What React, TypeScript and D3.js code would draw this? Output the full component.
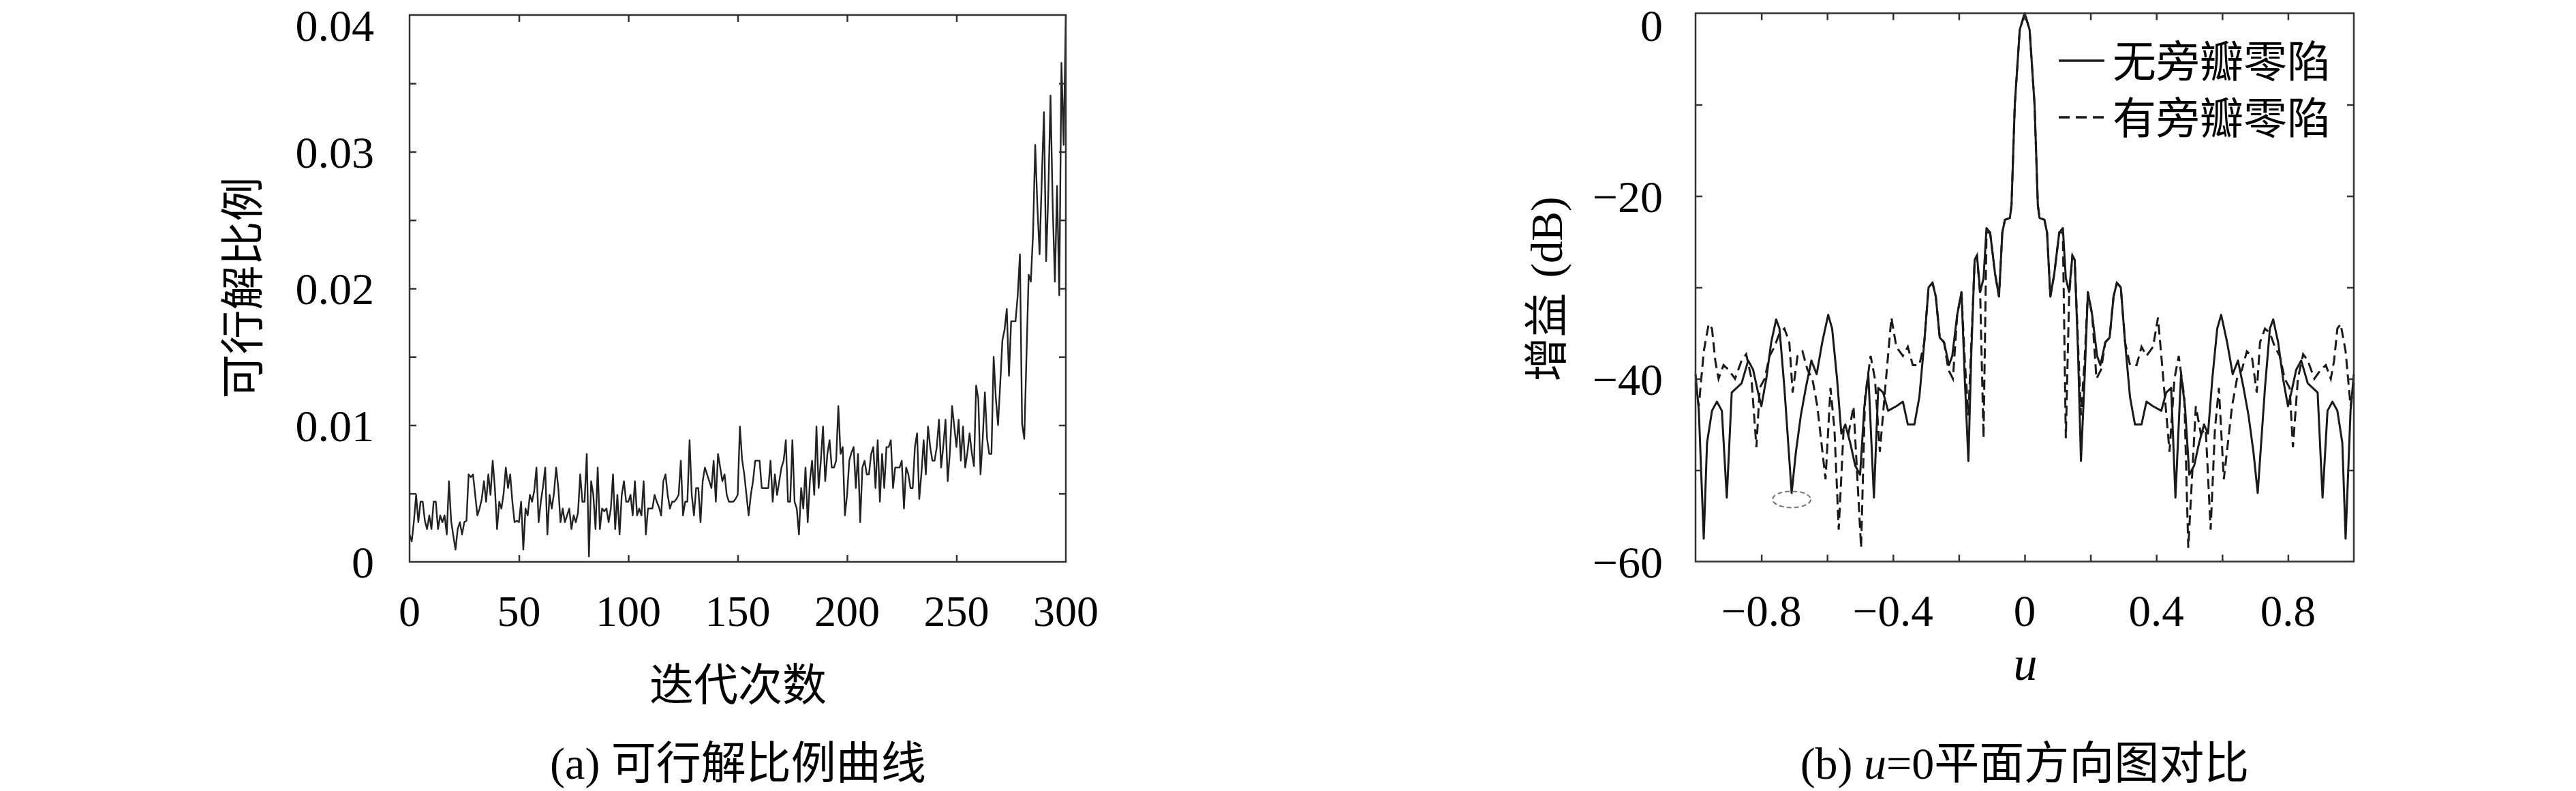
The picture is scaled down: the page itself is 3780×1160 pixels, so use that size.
import * as d3 from "d3";
import { useEffect, useRef } from "react";

// ---- (a) feasible solution ratio ----
const iterTicks = [0, 50, 100, 150, 200, 250, 300];
const ratioTicks = [0, 0.01, 0.02, 0.03, 0.04];
const ratioMinorTicks = [0.005, 0.015, 0.025, 0.035];
// ratio per iteration, in units of 1e-3 (iterations 0..300)
const feasibleRatio = [
  2.0, 1.5, 3.0, 4.9, 2.9, 4.4, 4.4, 3.0, 2.4, 3.4,
  2.4, 4.4, 4.4, 2.4, 3.4, 2.9, 3.4, 2.0, 5.9, 3.0,
  1.9, 0.9, 2.4, 2.9, 2.0, 2.9, 3.0, 6.4, 6.2, 6.4,
  4.9, 3.4, 3.9, 4.6, 5.9, 4.4, 6.4, 4.9, 7.4, 5.4,
  2.4, 4.4, 3.9, 5.0, 6.9, 5.4, 6.4, 4.4, 2.9, 3.0,
  2.9, 4.4, 0.9, 3.9, 3.4, 4.9, 4.4, 5.2, 6.9, 2.9,
  4.4, 5.5, 6.9, 2.0, 4.9, 3.9, 5.0, 6.9, 5.4, 2.9,
  3.9, 2.9, 3.4, 3.9, 2.4, 3.4, 2.9, 3.6, 6.4, 4.4,
  4.4, 7.9, 0.4, 5.9, 4.9, 2.4, 6.9, 2.4, 3.9, 3.7,
  3.9, 2.9, 3.9, 6.4, 2.4, 4.9, 2.0, 4.9, 5.9, 4.4,
  4.4, 4.9, 3.4, 5.9, 3.4, 3.9, 3.4, 5.9, 2.0, 3.9,
  3.9, 3.9, 4.9, 4.4, 4.0, 3.4, 5.9, 6.4, 4.9, 3.9,
  4.4, 4.4, 4.6, 4.9, 7.4, 3.4, 4.4, 4.4, 8.9, 4.9,
  3.4, 5.4, 5.4, 2.9, 5.9, 6.9, 6.4, 5.9, 5.4, 7.4,
  4.4, 7.9, 6.9, 5.9, 6.4, 4.9, 4.4, 4.4, 4.4, 4.6,
  4.9, 9.9, 7.5, 6.4, 4.9, 3.4, 4.9, 5.9, 7.4, 7.4,
  7.4, 5.4, 5.4, 5.4, 5.4, 7.4, 4.4, 6.4, 4.9, 5.9,
  6.9, 7.4, 8.9, 4.4, 4.4, 8.9, 4.4, 3.9, 2.0, 5.4,
  3.9, 6.9, 2.9, 5.9, 7.4, 4.9, 9.9, 5.4, 7.4, 9.9,
  5.9, 7.9, 8.9, 6.9, 6.9, 7.4, 11.4, 7.9, 8.4, 3.4,
  4.9, 7.4, 8.0, 8.4, 5.4, 7.9, 2.9, 6.9, 7.4, 6.4,
  6.4, 7.9, 8.4, 5.4, 8.9, 4.4, 7.9, 5.4, 8.4, 8.4,
  8.9, 5.4, 6.9, 6.9, 6.9, 7.4, 3.9, 6.9, 6.4, 5.4,
  5.4, 8.4, 9.4, 4.6, 6.5, 8.9, 6.4, 9.9, 8.4, 7.4,
  7.4, 8.4, 10.4, 6.9, 8.5, 10.4, 5.9, 8.0, 11.4, 9.9,
  8.4, 10.4, 7.4, 9.9, 6.9, 8.0, 9.4, 8.0, 7.0, 12.9,
  11.9, 6.4, 9.0, 12.4, 9.0, 7.9, 7.9, 15.0, 12.0, 10.0,
  13.0, 16.2, 17.0, 18.5, 13.6, 17.6, 17.6, 17.6, 19.5, 22.5,
  10.1, 9.0, 15.0, 21.0, 20.5, 24.0, 30.5, 26.0, 22.5, 28.0,
  32.9, 22.0, 27.0, 34.1, 26.0, 20.5, 27.5, 19.5, 36.5, 30.5,
  40.0,
];

// ---- (b) pattern comparison on u=0 plane ----
const uTicks = [-0.8, -0.6, -0.4, -0.2, 0, 0.2, 0.4, 0.6, 0.8];
const uLabels = [-0.8, -0.4, 0, 0.4, 0.8];
const gainTicks = [-60, -50, -40, -30, -20, -10, 0];
const gainLabels = [-60, -40, -20, 0];
const legendNames = ["无旁瓣零陷", "有旁瓣零陷"];

// [u, gain dB]
const noNullPattern: [number, number][] = [
  [-1.0, -39.5], [-0.99, -43.5], [-0.975, -57.5], [-0.965, -47], [-0.95, -43.5], [-0.935, -42.5],
  [-0.92, -43.5], [-0.905, -53], [-0.89, -41.5], [-0.875, -41], [-0.86, -40.5], [-0.84, -38],
  [-0.825, -39], [-0.81, -41.5], [-0.8, -43], [-0.785, -40], [-0.77, -36], [-0.755, -33.5],
  [-0.745, -34.5], [-0.73, -41], [-0.708, -52.5], [-0.695, -48], [-0.68, -44], [-0.665, -41],
  [-0.648, -38], [-0.632, -39.5], [-0.615, -36], [-0.597, -33], [-0.585, -34.5], [-0.57, -40],
  [-0.557, -46], [-0.545, -45], [-0.53, -47], [-0.515, -49.5], [-0.5, -50.5], [-0.487, -43],
  [-0.475, -39.5], [-0.458, -53], [-0.445, -41], [-0.43, -41.5], [-0.415, -43.5], [-0.39, -43],
  [-0.37, -42.5], [-0.355, -45], [-0.335, -45], [-0.32, -42], [-0.305, -36], [-0.292, -30],
  [-0.28, -29.5], [-0.27, -31], [-0.258, -35.5], [-0.245, -36], [-0.23, -38.5], [-0.22, -37.5],
  [-0.205, -33], [-0.192, -30.5], [-0.182, -40], [-0.171, -49], [-0.162, -37], [-0.152, -27],
  [-0.145, -26.5], [-0.135, -30.5], [-0.125, -29], [-0.116, -23.5], [-0.105, -24], [-0.09, -28.5],
  [-0.078, -31], [-0.068, -24], [-0.06, -22.6], [-0.045, -22.4], [-0.04, -21], [-0.03, -10],
  [-0.015, -1.8], [0, 0],
  [0.015, -1.8], [0.03, -10], [0.04, -21], [0.045, -22.4], [0.06, -22.6], [0.068, -24],
  [0.078, -31], [0.09, -28.5], [0.105, -24], [0.116, -23.5], [0.125, -29], [0.135, -30.5],
  [0.145, -26.5], [0.152, -27], [0.162, -37], [0.171, -49], [0.182, -40], [0.192, -30.5],
  [0.205, -33], [0.22, -37.5], [0.23, -38.5], [0.245, -36], [0.258, -35.5], [0.27, -31],
  [0.28, -29.5], [0.292, -30], [0.305, -36], [0.32, -42], [0.335, -45], [0.355, -45],
  [0.37, -42.5], [0.39, -43], [0.415, -43.5], [0.43, -41.5], [0.445, -41], [0.458, -53],
  [0.475, -39.5], [0.487, -43], [0.5, -50.5], [0.515, -49.5], [0.53, -47], [0.545, -45],
  [0.557, -46], [0.57, -40], [0.585, -34.5], [0.597, -33], [0.615, -36], [0.632, -39.5],
  [0.648, -38], [0.665, -41], [0.68, -44], [0.695, -48], [0.708, -52.5], [0.73, -41],
  [0.745, -34.5], [0.755, -33.5], [0.77, -36], [0.785, -40], [0.8, -43], [0.81, -41.5],
  [0.825, -39], [0.84, -38], [0.86, -40.5], [0.875, -41], [0.89, -41.5], [0.905, -53],
  [0.92, -43.5], [0.935, -42.5], [0.95, -43.5], [0.965, -47], [0.975, -57.5], [0.99, -43.5],
  [1.0, -39.5],
];

const withNullPattern: [number, number][] = [
  [-1.0, -40.5], [-0.99, -43], [-0.975, -37], [-0.96, -34], [-0.95, -34.5], [-0.94, -38],
  [-0.93, -40], [-0.915, -38.5], [-0.9, -39], [-0.88, -40], [-0.86, -38], [-0.846, -37.3],
  [-0.83, -40], [-0.815, -47.5], [-0.805, -41], [-0.79, -40], [-0.775, -37.5], [-0.76, -36.5],
  [-0.745, -35], [-0.73, -34.5], [-0.715, -36], [-0.705, -41.5], [-0.69, -37.5], [-0.675, -37],
  [-0.66, -39], [-0.645, -40], [-0.63, -43], [-0.605, -51], [-0.59, -41], [-0.578, -45.5],
  [-0.565, -56.5], [-0.55, -45.5], [-0.535, -46], [-0.52, -43], [-0.497, -58.5], [-0.485, -42],
  [-0.468, -37.5], [-0.455, -40], [-0.44, -48], [-0.42, -39.5], [-0.405, -33.3], [-0.39, -36.5],
  [-0.37, -37.5], [-0.355, -36.5], [-0.34, -38.5], [-0.32, -38.5], [-0.305, -36], [-0.292, -30],
  [-0.28, -29.5], [-0.27, -31], [-0.258, -35.5], [-0.245, -36], [-0.232, -39], [-0.218, -40],
  [-0.205, -33], [-0.192, -30.5], [-0.182, -38], [-0.171, -44], [-0.162, -36], [-0.152, -27],
  [-0.145, -26.5], [-0.135, -31], [-0.125, -46.5], [-0.116, -24], [-0.105, -24], [-0.09, -28.5],
  [-0.078, -31], [-0.068, -24], [-0.06, -22.6], [-0.045, -22.4], [-0.04, -21], [-0.03, -10],
  [-0.015, -1.8], [0, 0],
  [0.015, -1.8], [0.03, -10], [0.04, -21], [0.045, -22.4], [0.06, -22.6], [0.068, -24],
  [0.078, -31], [0.09, -28.5], [0.105, -24], [0.116, -24], [0.125, -46.5], [0.135, -31],
  [0.145, -26.5], [0.152, -27], [0.162, -36], [0.171, -44], [0.182, -38], [0.192, -30.5],
  [0.205, -33], [0.218, -40], [0.232, -39], [0.245, -36], [0.258, -35.5], [0.27, -31],
  [0.28, -29.5], [0.292, -30], [0.305, -36], [0.32, -38.5], [0.34, -38.5], [0.355, -36.5],
  [0.37, -37.5], [0.39, -36.5], [0.405, -33.3], [0.42, -39.5], [0.44, -48], [0.455, -40],
  [0.468, -37.5], [0.485, -42], [0.497, -58.5], [0.52, -43], [0.535, -46], [0.55, -45.5],
  [0.565, -56.5], [0.578, -45.5], [0.59, -41], [0.605, -51], [0.63, -43], [0.645, -40],
  [0.66, -39], [0.675, -37], [0.69, -37.5], [0.705, -41.5], [0.715, -36], [0.73, -34.5],
  [0.745, -35], [0.76, -36.5], [0.775, -37.5], [0.79, -40], [0.805, -41], [0.815, -47.5],
  [0.83, -40], [0.846, -37.3], [0.86, -38], [0.88, -40], [0.9, -39], [0.915, -38.5],
  [0.93, -40], [0.94, -38], [0.95, -34.5], [0.96, -34], [0.975, -37], [0.99, -43],
  [1.0, -40.5],
];

const markedNull = { u: -0.708, gain: -53.2 };

const FONT = "'Liberation Serif', 'DejaVu Serif', 'Noto Sans CJK SC', serif";
const INK = "#1a1a1a";
const fmt = (v: number) => (v < 0 ? "\u2212" + Math.abs(v) : String(v));

const App = () => {
  const ref = useRef<SVGSVGElement>(null);

  useEffect(() => {
    const svg = d3.select(ref.current);
    svg.selectAll("*").remove();
    svg.attr("width", 3780).attr("height", 1160);
    svg.append("rect").attr("width", 3780).attr("height", 1160).attr("fill", "#fff");

    const frame = (
      x: d3.ScaleLinear<number, number>,
      y: d3.ScaleLinear<number, number>,
      xt: number[],
      yt: number[]
    ) => {
      const [x0, x1] = x.range();
      const [y1, y0] = y.range();
      const g = svg.append("g");
      const tick = 10;
      const axes = [
        { a: d3.axisBottom(x).tickValues(xt), t: `translate(0,${y1})` },
        { a: d3.axisTop(x).tickValues(xt), t: `translate(0,${y0})` },
        { a: d3.axisLeft(y).tickValues(yt), t: `translate(${x0},0)` },
        { a: d3.axisRight(y).tickValues(yt), t: `translate(${x1},0)` },
      ];
      axes.forEach(({ a, t }) => {
        const ag = g
          .append("g")
          .attr("transform", t)
          .call(a.tickSize(-tick).tickFormat(() => ""));
        ag.select(".domain").remove();
        ag.selectAll("line").attr("stroke", "#333").attr("stroke-width", 2.5);
      });
      g.append("rect")
        .attr("x", x0)
        .attr("y", y0)
        .attr("width", x1 - x0)
        .attr("height", y1 - y0)
        .attr("fill", "none")
        .attr("stroke", "#333")
        .attr("stroke-width", 2.5);
    };

    const text = (
      s: string,
      x: number,
      y: number,
      size: number,
      anchor = "middle"
    ) =>
      svg
        .append("text")
        .attr("x", x)
        .attr("y", y)
        .attr("font-family", FONT)
        .attr("font-size", size)
        .attr("text-anchor", anchor)
        .attr("fill", "#000")
        .text(s);

    // ---------- chart (a) ----------
    const xa = d3.scaleLinear().domain([0, 300]).range([601, 1564]);
    const ya = d3.scaleLinear().domain([0, 0.04]).range([824, 22]);

    svg
      .append("path")
      .datum(feasibleRatio)
      .attr("fill", "none")
      .attr("stroke", "#222")
      .attr("stroke-width", 2.4)
      .attr("stroke-linejoin", "round")
      .attr(
        "d",
        d3
          .line<number>()
          .x((_, i) => xa(i))
          .y((d) => ya(d / 1000))
      );

    frame(xa, ya, iterTicks.slice(1, -1), [...ratioTicks.slice(1, -1), ...ratioMinorTicks]);

    // the top label sits a little low so it stays inside the picture
    iterTicks.forEach((t) => text(String(t), xa(t), 918, 64));
    ratioTicks.forEach((t) => text(fmt(t), 549, Math.max(ya(t) + 23, 60), 66, "end"));

    text("迭代次数", 1083, 1027, 65);
    svg
      .append("text")
      .attr("transform", "translate(357,422) rotate(-90)")
      .attr("dominant-baseline", "central")
      .attr("text-anchor", "middle")
      .attr("font-family", FONT)
      .attr("font-size", 65)
      .text("可行解比例");
    text("(a) 可行解比例曲线", 1083, 1142, 66);

    // ---------- chart (b) ----------
    const xb = d3.scaleLinear().domain([-1, 1]).range([2488, 3454]);
    const yb = d3.scaleLinear().domain([-60, 0]).range([823.5, 19.5]);
    const line = d3
      .line<[number, number]>()
      .x((d) => xb(d[0]))
      .y((d) => yb(d[1]));

    const plot = svg.append("g");
    plot
      .append("path")
      .datum(withNullPattern)
      .attr("fill", "none")
      .attr("stroke", INK)
      .attr("stroke-width", 3)
      .attr("stroke-dasharray", "15 8")
      .attr("d", line);
    plot
      .append("path")
      .datum(noNullPattern)
      .attr("fill", "none")
      .attr("stroke", INK)
      .attr("stroke-width", 3)
      .attr("stroke-linejoin", "round")
      .attr("d", line);

    plot
      .append("ellipse")
      .attr("cx", xb(markedNull.u))
      .attr("cy", yb(markedNull.gain))
      .attr("rx", 28)
      .attr("ry", 12)
      .attr("fill", "none")
      .attr("stroke", "#777")
      .attr("stroke-width", 2)
      .attr("stroke-dasharray", "7 4");

    frame(xb, yb, uTicks, gainTicks.slice(1, -1));

    uLabels.forEach((t) => text(fmt(t), xb(t), 918, 65));
    gainLabels.forEach((t) => text(fmt(t), 2440, Math.max(yb(t) + 23, 60), 66, "end"));

    svg
      .append("text")
      .attr("x", 2972)
      .attr("y", 997)
      .attr("font-family", FONT)
      .attr("font-size", 70)
      .attr("font-style", "italic")
      .attr("text-anchor", "middle")
      .text("u");

    const yl = svg
      .append("text")
      .attr("transform", "translate(2270,424) rotate(-90)")
      .attr("dominant-baseline", "central")
      .attr("text-anchor", "middle")
      .attr("font-family", FONT)
      .attr("font-size", 65);
    yl.append("tspan").text("增益");
    yl.append("tspan").attr("dx", 22).text("(dB)");

    const cap = svg
      .append("text")
      .attr("x", 2971)
      .attr("y", 1142)
      .attr("font-family", FONT)
      .attr("font-size", 66)
      .attr("text-anchor", "middle");
    cap.append("tspan").text("(b) ");
    cap.append("tspan").attr("font-style", "italic").text("u");
    cap.append("tspan").text("=0平面方向图对比");

    // legend
    legendNames.forEach((name, i) => {
      const ly = [89, 172][i];
      svg
        .append("line")
        .attr("x1", 3021)
        .attr("x2", 3088)
        .attr("y1", ly)
        .attr("y2", ly)
        .attr("stroke", INK)
        .attr("stroke-width", 3.5)
        .attr("stroke-dasharray", i === 1 ? "16 9" : null);
      text(name, 3100, ly + 24, 64, "start");
    });
  }, []);

  return (
    <svg
      ref={ref}
      style={{ position: "absolute", left: 0, top: 0, display: "block" }}
    />
  );
};

export default App;
